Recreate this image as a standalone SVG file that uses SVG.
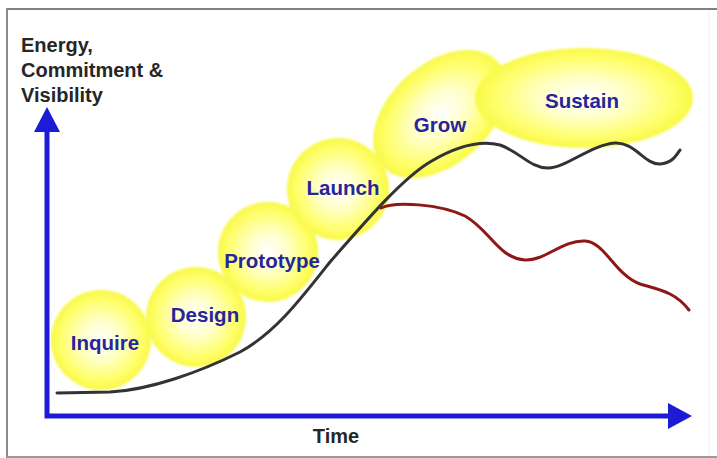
<svg xmlns="http://www.w3.org/2000/svg" width="717" height="458" viewBox="0 0 717 458">
<style>
.lbl{font-family:"Liberation Sans",Arial,sans-serif;font-weight:bold;font-size:20.5px;fill:#26269a;text-anchor:middle}
.ax{font-family:"Liberation Sans",Arial,sans-serif;font-weight:bold;font-size:20px;fill:#262626}
.bub{fill:url(#yg);filter:url(#soft)}
.axis{stroke:#1c1cd6;stroke-width:5;fill:none}
.head{fill:#1c1cd6}
</style>
<defs>
<radialGradient id="yg" cx="50%" cy="50%" r="50%">
<stop offset="0" stop-color="#ffffff"/>
<stop offset="0.4" stop-color="#ffffc8"/>
<stop offset="0.8" stop-color="#ffff6c"/>
<stop offset="1" stop-color="#f8f848"/>
</radialGradient>
<filter id="soft" x="-10%" y="-10%" width="120%" height="120%">
<feGaussianBlur stdDeviation="1.2"/>
</filter>
</defs>
<rect x="0" y="0" width="717" height="458" fill="#ffffff"/>
<g id="frame" fill="none">
<line x1="7" y1="9" x2="717" y2="9" stroke="#808080" stroke-width="2"/>
<line x1="7" y1="8" x2="7" y2="458" stroke="#8c8c8c" stroke-width="2"/>
<line x1="7" y1="457" x2="717" y2="457" stroke="#9a9a9a" stroke-width="2"/>
<line x1="709" y1="10" x2="709" y2="456" stroke="#ececec" stroke-width="1"/>
</g>
<g id="node-inquire"><circle class="bub" cx="101" cy="340" r="50"/><text class="lbl" x="105" y="350">Inquire</text></g>
<g id="node-design"><circle class="bub" cx="196" cy="317" r="50"/><text class="lbl" x="205" y="322">Design</text></g>
<g id="node-prototype"><circle class="bub" cx="268" cy="252" r="50"/><text class="lbl" x="272" y="268">Prototype</text></g>
<g id="node-grow"><ellipse class="bub" cx="440" cy="114" rx="78" ry="50" transform="rotate(-42 440 114)"/></g>
<g id="node-launch"><circle class="bub" cx="338" cy="189" r="51"/><text class="lbl" x="343" y="195">Launch</text></g>
<g id="node-grow-label"><text class="lbl" x="440" y="132">Grow</text></g>
<g id="node-sustain"><ellipse class="bub" cx="584" cy="98" rx="109" ry="50"/><text class="lbl" x="582" y="108">Sustain</text></g>
<g id="connectors" fill="none" stroke-linecap="round" stroke-linejoin="round">
<path d="M381,208 C395,201 440,204 465,216 C490,230 498,258 525,260 C545,261 562,240 585,241 C605,242 615,275 640,284 C660,290 675,292 689,310" stroke="#8e1818" stroke-width="3"/>
<path d="M57,393 L110,392 C150,390 200,372 240,352 C275,333 300,300 330,262 C360,228 400,180 430,162 C455,147 480,140 500,145 C520,152 530,168 548,168 C566,168 590,145 615,143 C635,142 645,165 660,164 C672,163 676,156 680,150" stroke="#333333" stroke-width="3"/>
</g>
<g id="axes">
<polyline class="axis" points="47,128 47,416 672,416"/>
<polygon class="head" points="34,132 47,107 60,132"/>
<polygon class="head" points="668,403 692,416 668,429"/>
</g>
<g id="axis-labels">
<text class="ax" x="21" y="52">Energy,</text>
<text class="ax" x="21" y="77">Commitment &amp;</text>
<text class="ax" x="21" y="102">Visibility</text>
<text class="ax" x="336" y="443" text-anchor="middle">Time</text>
</g>
</svg>
